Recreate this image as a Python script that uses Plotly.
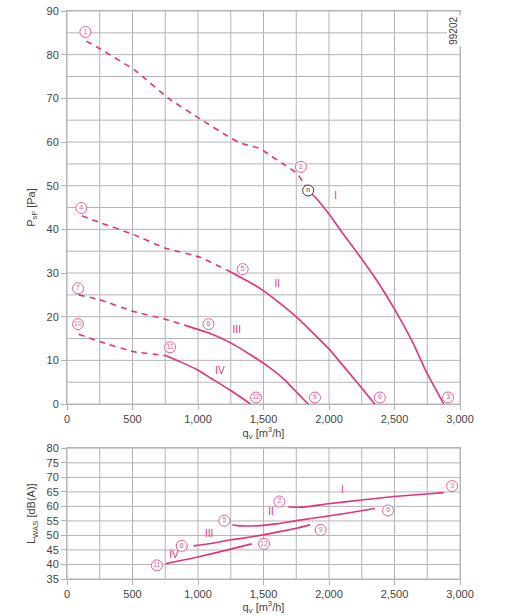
import plotly.graph_objects as go

MAG = "#e4317f"
PINK = "#e8609a"
GRID = "#b4b4b4"
FONT = "Liberation Sans, Arial, sans-serif"

# ---- Top chart: pressure curves (dashed part / solid part) ----
I_dash_x = [147, 248, 520, 775, 1016, 1245, 1321, 1473, 1524, 1639, 1753, 1803, 1841]
I_dash_y = [83.1, 81.4, 76.4, 70.0, 65.3, 61.0, 59.8, 58.5, 57.5, 55.2, 52.9, 50.8, 48.9]
I_sol_x = [1841, 1900, 2000, 2100, 2236, 2363, 2502, 2641, 2744, 2876]
I_sol_y = [48.9, 47.2, 43.5, 39.3, 33.8, 28.4, 21.6, 14.0, 7.3, 0]

II_dash_x = [114, 248, 508, 752, 1016, 1220]
II_dash_y = [43.1, 41.6, 38.8, 35.7, 33.6, 30.7]
II_sol_x = [1220, 1321, 1473, 1600, 1753, 1994, 2210, 2350]
II_sol_y = [30.7, 29.1, 26.5, 23.7, 19.9, 12.8, 5.1, 0]

III_dash_x = [89, 248, 508, 752, 915]
III_dash_y = [25.0, 23.9, 21.2, 19.4, 17.9]
III_sol_x = [915, 1080, 1250, 1400, 1550, 1664, 1760, 1841]
III_sol_y = [17.9, 16.3, 14.0, 11.3, 8.3, 5.5, 2.5, 0]

IV_dash_x = [89, 248, 508, 752]
IV_dash_y = [16.0, 14.3, 12.0, 11.1]
IV_sol_x = [752, 870, 998, 1100, 1250, 1402]
IV_sol_y = [11.1, 9.6, 7.8, 5.9, 3.1, 0]

top_pt_lbl = ["1", "2", "3", "4", "5", "6", "7", "8", "9", "10", "11", "12"]
top_pt_x = [140, 1786, 2909, 109, 1341, 2388, 84, 1080, 1893, 84, 787, 1443]
top_pt_y = [85.2, 54.3, 1.5, 44.9, 30.9, 1.5, 26.5, 18.3, 1.5, 18.3, 13.0, 1.5]

op_lbl = ["n"]
op_x = [1841]
op_y = [48.9]

top_roman = ["I", "II", "III", "IV"]
top_roman_x = [2050, 1605, 1296, 1168]
top_roman_y = [47.5, 27.3, 16.8, 7.4]

# ---- Bottom chart: sound power ----
LI_x = [1689, 1753, 1850, 1994, 2248, 2497, 2744, 2876]
LI_y = [59.9, 59.7, 60.0, 60.9, 62.2, 63.4, 64.3, 64.75]
LII_x = [1262, 1321, 1473, 1600, 1753, 1994, 2248, 2350]
LII_y = [53.6, 53.3, 53.4, 54.0, 55.1, 56.7, 58.5, 59.3]
LIII_x = [965, 1100, 1250, 1321, 1498, 1753, 1855]
LIII_y = [46.4, 47.2, 48.5, 48.9, 50.2, 52.5, 53.65]
LIV_x = [754, 998, 1250, 1410]
LIV_y = [40.25, 42.55, 45.3, 47.1]

bot_pt_lbl = ["2", "3", "5", "6", "8", "9", "11", "12"]
bot_pt_x = [1621, 2940, 1201, 2451, 876, 1936, 686, 1504]
bot_pt_y = [61.7, 67.0, 55.1, 58.6, 46.4, 51.9, 39.7, 47.1]

bot_roman = ["I", "II", "III", "IV"]
bot_roman_x = [2103, 1557, 1085, 817]
bot_roman_y = [65.4, 57.9, 50.2, 43.0]

# grid positions
x_grid = list(range(0, 3001, 250))
y_grid_top = list(range(0, 91, 5))
y_grid_bot = list(range(35, 81, 5))

fig = go.Figure()

def line(x, y, dash, xa, ya):
    fig.add_trace(go.Scatter(x=x, y=y, mode="lines", xaxis=xa, yaxis=ya,
                             line=dict(color=MAG, width=1.6, dash=dash, shape="spline", smoothing=0.4),
                             hoverinfo="skip", showlegend=False))

for dx, dy, sx, sy in [(I_dash_x, I_dash_y, I_sol_x, I_sol_y),
                       (II_dash_x, II_dash_y, II_sol_x, II_sol_y),
                       (III_dash_x, III_dash_y, III_sol_x, III_sol_y),
                       (IV_dash_x, IV_dash_y, IV_sol_x, IV_sol_y)]:
    line(dx, dy, "6px,5px", "x", "y")
    line(sx, sy, "solid", "x", "y")

for x, y in [(LI_x, LI_y), (LII_x, LII_y), (LIII_x, LIII_y), (LIV_x, LIV_y)]:
    line(x, y, "solid", "x2", "y2")

def circles(x, y, lbl, xa, ya, color):
    fig.add_trace(go.Scatter(x=x, y=y, mode="markers+text", xaxis=xa, yaxis=ya,
                             text=lbl, textposition="middle center",
                             textfont=dict(size=7, color=color, family=FONT),
                             marker=dict(symbol="circle", size=11, color="white",
                                         line=dict(color=color, width=1)),
                             hoverinfo="skip", showlegend=False))

circles(top_pt_x, top_pt_y, top_pt_lbl, "x", "y", PINK)
circles(op_x, op_y, op_lbl, "x", "y", "#333333")
circles(bot_pt_x, bot_pt_y, bot_pt_lbl, "x2", "y2", PINK)

def roman(x, y, lbl, xa, ya):
    fig.add_trace(go.Scatter(x=x, y=y, mode="text", xaxis=xa, yaxis=ya, text=lbl,
                             textfont=dict(size=10, color=MAG, family=FONT),
                             hoverinfo="skip", showlegend=False))

roman(top_roman_x, top_roman_y, top_roman, "x", "y")
roman(bot_roman_x, bot_roman_y, bot_roman, "x2", "y2")

# grid as shapes (below traces)
shapes = []
for gx in x_grid:
    shapes.append(dict(type="line", xref="x", yref="y domain", x0=gx, x1=gx, y0=0, y1=1,
                       line=dict(color=GRID, width=1), layer="below"))
    shapes.append(dict(type="line", xref="x2", yref="y2 domain", x0=gx, x1=gx, y0=0, y1=1,
                       line=dict(color=GRID, width=1), layer="below"))
for gy in y_grid_top:
    shapes.append(dict(type="line", xref="x domain", yref="y", x0=0, x1=1, y0=gy, y1=gy,
                       line=dict(color=GRID, width=1), layer="below"))
for gy in y_grid_bot:
    shapes.append(dict(type="line", xref="x2 domain", yref="y2", x0=0, x1=1, y0=gy, y1=gy,
                       line=dict(color=GRID, width=1), layer="below"))

ax_common = dict(showline=True, linecolor=GRID, linewidth=1, mirror=True,
                 showgrid=False, zeroline=False,
                 ticks="outside", ticklen=5, tickcolor=GRID, tickwidth=1,
                 tickfont=dict(size=11, color="#444444", family=FONT))

xtitle = dict(text="q<sub>v</sub> [m<sup>3</sup>/h]", font=dict(size=11, color="#444444", family=FONT), standoff=2)

fig.update_layout(
    template="none",
    width=523, height=615,
    margin=dict(l=67, r=63, t=11, b=36),
    paper_bgcolor="white", plot_bgcolor="white",
    font=dict(family=FONT),
    separators=".,",
    shapes=shapes,
    xaxis=dict(domain=[0, 1], range=[0, 3000], dtick=500, tick0=0, tickformat=",", anchor="y",
               title=xtitle, **ax_common),
    yaxis=dict(domain=[0.308, 1.0], range=[0, 90], dtick=10, tick0=0, anchor="x",
               title=dict(text="P<sub>sF</sub> [Pa]", font=dict(size=11, color="#444444", family=FONT), standoff=8),
               **ax_common),
    xaxis2=dict(domain=[0, 1], range=[0, 3000], dtick=500, tick0=0, tickformat=",", anchor="y2",
                title=xtitle, **ax_common),
    yaxis2=dict(domain=[0, 0.230], range=[35, 80], dtick=5, tick0=0, anchor="x2",
                title=dict(text="L<sub>WAS</sub> [dB(A)]", font=dict(size=11, color="#444444", family=FONT), standoff=8),
                **ax_common),
)

fig.add_annotation(x=2955, y=85.5, xref="x", yref="y", text="99202", textangle=-90,
                   showarrow=False, font=dict(size=10, color="#444444", family=FONT),
                   bgcolor="white")

fig.write_html("out.html")
